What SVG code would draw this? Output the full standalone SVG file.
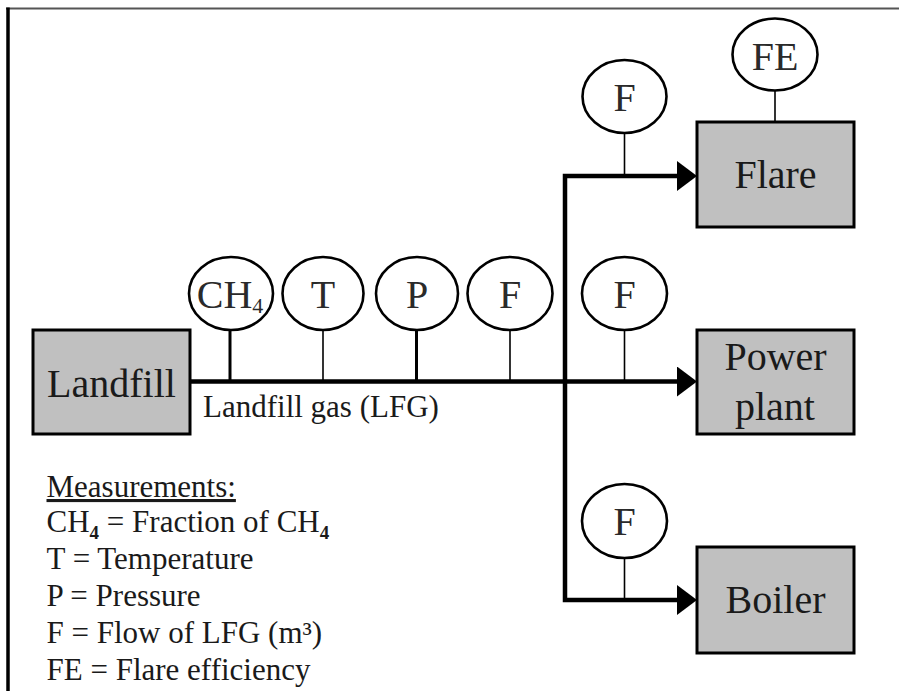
<svg xmlns="http://www.w3.org/2000/svg" width="899" height="691" viewBox="0 0 899 691">
<defs>
<style>
text{font-family:"Liberation Serif","Times New Roman",serif;fill:#1a1a1a}
.box{fill:#c0c0c0;stroke:#000;stroke-width:3}
.lbl{font-size:40px;text-anchor:middle}
.meter{fill:#fff;stroke:#000;stroke-width:2.6}
.mtxt{font-size:40px;text-anchor:middle;fill:#2a2a2a}
.pipe{fill:none;stroke:#000;stroke-width:4.5;stroke-linejoin:miter}
.stem{stroke:#000;stroke-width:1.6}
.stemb{stroke:#000;stroke-width:3}
.leg{font-size:31px}
</style>
<marker id="arr" markerUnits="userSpaceOnUse" markerWidth="20" markerHeight="30" refX="13" refY="15" orient="auto" viewBox="0 0 20 30">
<path d="M0,0 L20,15 L0,30 Z" fill="#000"/>
</marker>
</defs>
<rect width="899" height="691" fill="#fff"/>
<g id="frame">
<line x1="6" y1="8.5" x2="899" y2="8.5" stroke="#555" stroke-width="2.2"/>
<line x1="8" y1="7.5" x2="8" y2="691" stroke="#000" stroke-width="3.5"/>
</g>
<g id="connectors">
<path class="pipe" d="M190,381.5 H690" marker-end="url(#arr)"/>
<path class="pipe" d="M565,381.5 V176 H690" marker-end="url(#arr)"/>
<path class="pipe" d="M565,381.5 V600 H690" marker-end="url(#arr)"/>
<line class="stemb" x1="230" y1="330" x2="230" y2="381"/>
<line class="stem" x1="323" y1="330" x2="323" y2="381"/>
<line class="stemb" x1="416.5" y1="330" x2="416.5" y2="381"/>
<line class="stem" x1="510" y1="330" x2="510" y2="381"/>
<line class="stem" x1="624.5" y1="330" x2="624.5" y2="381"/>
<line class="stem" x1="624.5" y1="133" x2="624.5" y2="176"/>
<line class="stem" x1="775" y1="91" x2="775" y2="122"/>
<line class="stem" x1="624.5" y1="558" x2="624.5" y2="600"/>
</g>
<g id="landfill">
<rect class="box" x="33" y="330" width="157" height="104"/>
<text class="lbl" x="111.5" y="397">Landfill</text>
</g>
<g id="lfg-label">
<text class="leg" x="203" y="417">Landfill gas (LFG)</text>
</g>
<g id="flare">
<rect class="box" x="697" y="122" width="157" height="105"/>
<text class="lbl" x="775.5" y="188">Flare</text>
</g>
<g id="power-plant">
<rect class="box" x="697" y="330" width="157" height="104"/>
<text class="lbl" x="775.5" y="370">Power</text>
<text class="lbl" x="775" y="420">plant</text>
</g>
<g id="boiler">
<rect class="box" x="697" y="547" width="157" height="106"/>
<text class="lbl" x="775.5" y="613">Boiler</text>
</g>
<g id="m-ch4">
<ellipse class="meter" cx="231" cy="293.5" rx="42" ry="36.5"/>
<text class="mtxt" x="230" y="308">CH<tspan font-size="22" dy="5">4</tspan></text>
</g>
<g id="m-t">
<ellipse class="meter" cx="323" cy="293.5" rx="40.5" ry="36.5"/>
<text class="mtxt" x="323" y="308">T</text>
</g>
<g id="m-p">
<ellipse class="meter" cx="417" cy="293.5" rx="41" ry="36.5"/>
<text class="mtxt" x="417" y="308">P</text>
</g>
<g id="m-f1">
<ellipse class="meter" cx="510" cy="293.5" rx="42.5" ry="36.5"/>
<text class="mtxt" x="510" y="308">F</text>
</g>
<g id="m-f2">
<ellipse class="meter" cx="624.5" cy="293.5" rx="42.5" ry="36.5"/>
<text class="mtxt" x="624.5" y="308">F</text>
</g>
<g id="m-f-flare">
<ellipse class="meter" cx="624.5" cy="96.5" rx="42" ry="36.5"/>
<text class="mtxt" x="624.5" y="110.5">F</text>
</g>
<g id="m-fe">
<ellipse class="meter" cx="775" cy="54.5" rx="42.5" ry="36"/>
<text class="mtxt" x="775" y="69.5">FE</text>
</g>
<g id="m-f-boiler">
<ellipse class="meter" cx="624.5" cy="521" rx="42.5" ry="37"/>
<text class="mtxt" x="624.5" y="535">F</text>
</g>
<g id="legend">
<text class="leg" x="46.5" y="497" text-decoration="underline">Measurements:</text>
<text class="leg" x="46.5" y="532">CH<tspan font-size="19" font-weight="bold" dy="7">4</tspan><tspan dy="-7"> = Fraction of CH</tspan><tspan font-size="19" font-weight="bold" dy="7">4</tspan></text>
<text class="leg" x="46.5" y="569">T = Temperature</text>
<text class="leg" x="46.5" y="606">P = Pressure</text>
<text class="leg" x="46.5" y="643">F = Flow of LFG (m³)</text>
<text class="leg" x="46.5" y="680">FE = Flare efficiency</text>
</g>
</svg>
